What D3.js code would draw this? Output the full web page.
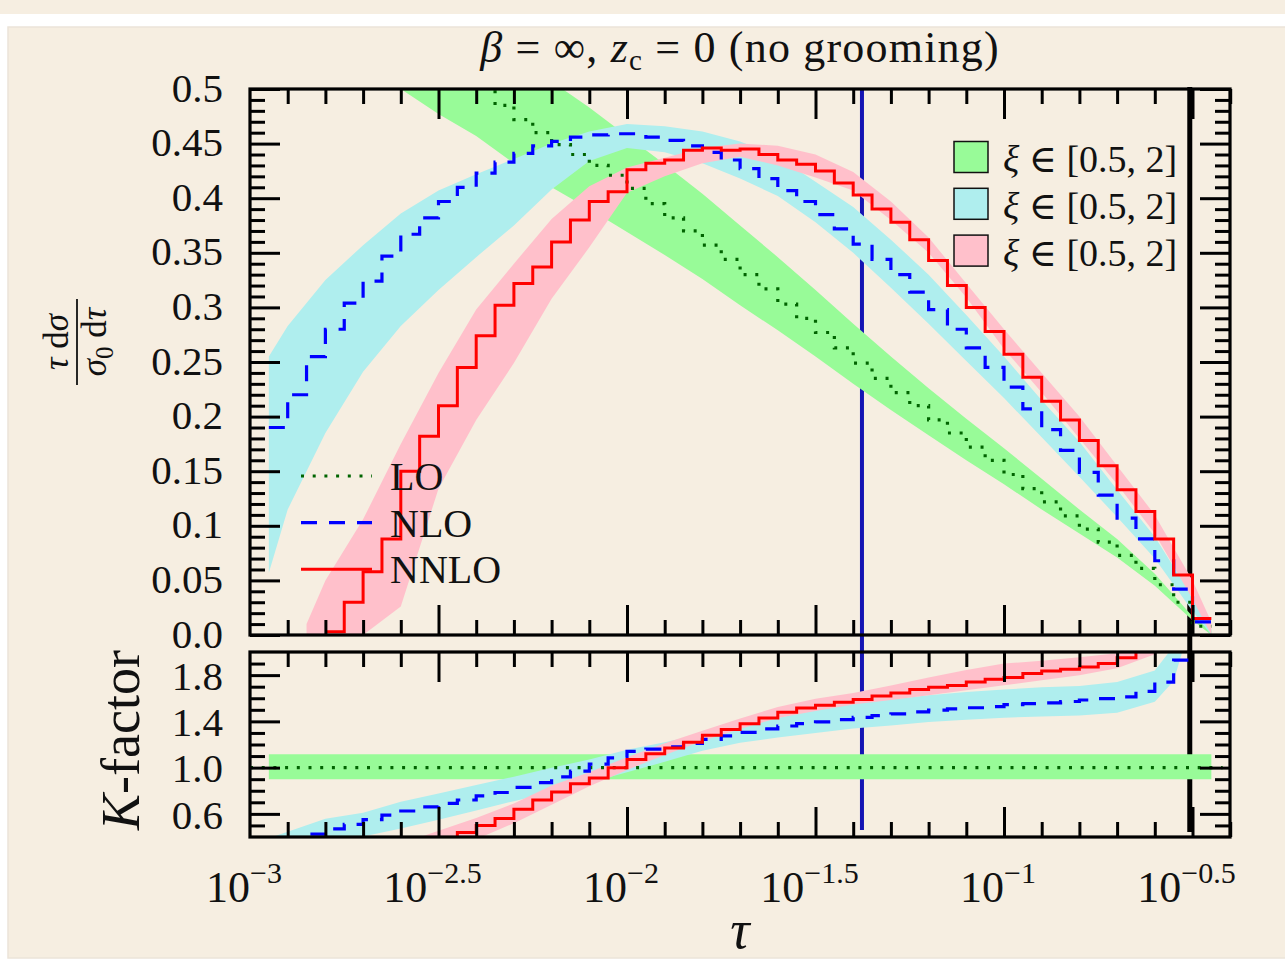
<!DOCTYPE html>
<html>
<head>
<meta charset="utf-8">
<title>K-factor, no grooming</title>
<style>
  body { margin: 0; background: #ffffff; }
  svg text { font-family: "Liberation Serif", "DejaVu Serif", serif; fill: #111; }
</style>
</head>
<body>
<script src="https://cdn.jsdelivr.net/npm/d3@7/dist/d3.min.js"></script>
<script>
// all x values are log10(tau)
var binW = 0.05;

// ---- upper panel: tau/sigma0 dsigma/dtau, histograms with 0.05 bins ----
var loStart = -2.40;
var loCentral = [0.503,0.485,0.472,0.46,0.449,0.44,0.43,0.421,0.409,0.395,0.382,0.37,0.357,0.344,0.33,0.317,0.303,0.29,0.277,0.263,
  0.249,0.235,0.222,0.21,0.197,0.185,0.172,0.16,0.147,0.134,0.122,0.109,0.097,0.085,0.073,0.061,0.046,0.03,0.008];

var nloStart = -2.95;
var nloCentral = [0.19,0.22,0.255,0.28,0.304,0.324,0.347,0.367,0.382,0.397,0.41,0.423,0.433,0.441,0.448,0.452,0.456,0.458,0.459,0.459,
  0.456,0.453,0.448,0.442,0.435,0.427,0.418,0.407,0.397,0.385,0.372,0.358,0.344,0.33,0.314,0.298,0.28,0.263,0.245,0.227,
  0.207,0.188,0.169,0.149,0.128,0.107,0.088,0.068,0.042,0.012];

var nnloStart = -2.80;
var nnloCentral = [0.003,0.03,0.058,0.088,0.15,0.182,0.21,0.245,0.274,0.302,0.322,0.337,0.36,0.38,0.397,0.406,0.426,0.432,0.435,0.444,
  0.446,0.444,0.445,0.44,0.435,0.431,0.425,0.414,0.403,0.39,0.378,0.362,0.343,0.32,0.3,0.278,0.257,0.236,0.214,0.197,
  0.178,0.155,0.133,0.113,0.088,0.055,0.015];

// scale-variation bands (xi in [0.5, 2])
var loBandX = [-2.6,-2.5,-2.4,-2.3,-2.2,-2.1,-2.0,-1.9,-1.8,-1.7,-1.6,-1.5,-1.4,-1.3,-1.2,-1.1,-1.0,-0.9,-0.8,-0.7,-0.6,-0.5,-0.45];
var loBandLow = [0.5,0.477,0.457,0.432,0.41,0.39,0.369,0.348,0.326,0.302,0.279,0.255,0.23,0.206,0.183,0.16,0.138,0.115,0.093,0.071,0.045,0.0135,0.0];
var loBandHigh = [0.619,0.591,0.566,0.535,0.507,0.483,0.457,0.431,0.404,0.375,0.346,0.316,0.285,0.255,0.226,0.198,0.171,0.143,0.115,0.088,0.056,0.017,0.004];

var nloBandX = [-2.95,-2.9,-2.8,-2.7,-2.6,-2.5,-2.4,-2.3,-2.2,-2.1,-2.0,-1.9,-1.8,-1.7,-1.6,-1.5,-1.4,-1.3,-1.2,-1.1,-1.0,-0.9,-0.8,-0.7,-0.6,-0.5,-0.45];
var nloBandLow = [0.057,0.115,0.185,0.241,0.283,0.316,0.346,0.375,0.408,0.434,0.446,0.442,0.432,0.418,0.402,0.378,0.35,0.318,0.285,0.251,0.217,0.181,0.145,0.108,0.07,0.022,0.0];
var nloBandHigh = [0.255,0.283,0.325,0.357,0.386,0.407,0.422,0.436,0.45,0.461,0.468,0.466,0.461,0.452,0.438,0.415,0.392,0.362,0.33,0.293,0.255,0.215,0.177,0.133,0.09,0.035,0.005];

var nnloBandX = [-2.85,-2.8,-2.7,-2.6,-2.5,-2.4,-2.3,-2.2,-2.1,-2.0,-1.9,-1.8,-1.7,-1.6,-1.5,-1.4,-1.3,-1.2,-1.1,-1.0,-0.9,-0.8,-0.7,-0.6,-0.5,-0.45];
var nnloBandLow = [0,0,0,0.026,0.134,0.197,0.249,0.308,0.355,0.405,0.42,0.432,0.438,0.43,0.419,0.407,0.38,0.35,0.309,0.262,0.222,0.18,0.138,0.093,0.033,0];
var nnloBandHigh = [0.01,0.05,0.106,0.175,0.24,0.298,0.34,0.381,0.411,0.428,0.437,0.446,0.45,0.448,0.44,0.424,0.397,0.364,0.322,0.28,0.24,0.2,0.155,0.11,0.05,0.012];

// ---- lower panel: K-factor ----
var kLoX = [-3.0,-0.42];
var kLo = [1.0,1.0];
var kLoBandX = [-2.95,-0.45];
var kLoBandLow = [0.9,0.9];
var kLoBandHigh = [1.115,1.115];

var kNloStart = -2.95;
var kNlo = [0.3,0.36,0.425,0.47,0.51,0.55,0.59,0.625,0.66,0.69,0.72,0.755,0.785,0.83,0.87,0.92,0.97,1.03,1.085,1.14,
  1.16,1.18,1.21,1.245,1.275,1.305,1.335,1.36,1.38,1.395,1.415,1.435,1.45,1.465,1.482,1.497,1.508,1.518,1.527,1.545,
  1.553,1.56,1.572,1.585,1.596,1.612,1.66,1.74,1.93,2.3];

var kNnloStart = -2.50;
var kNnlo = [0.39,0.44,0.5,0.56,0.64,0.72,0.79,0.86,0.91,1.0,1.07,1.12,1.17,1.22,1.28,1.33,1.38,1.43,1.48,1.515,
  1.54,1.565,1.59,1.62,1.645,1.675,1.695,1.71,1.74,1.765,1.78,1.815,1.835,1.85,1.87,1.9,1.95,2.05];

var kNloBandX = [-2.95,-2.9,-2.8,-2.7,-2.6,-2.5,-2.4,-2.3,-2.2,-2.1,-2.0,-1.9,-1.8,-1.7,-1.6,-1.5,-1.4,-1.3,-1.2,-1.1,-1.0,-0.9,-0.8,-0.7,-0.6,-0.55,-0.5];
var kNloBandLow = [0.25,0.29,0.33,0.405,0.474,0.55,0.63,0.71,0.79,0.87,0.96,1.05,1.146,1.215,1.26,1.3,1.338,1.365,1.394,1.415,1.432,1.443,1.45,1.475,1.57,1.75,2.3];
var kNloBandHigh = [0.39,0.445,0.557,0.61,0.704,0.776,0.85,0.922,0.998,1.07,1.155,1.22,1.29,1.356,1.43,1.5,1.555,1.59,1.625,1.655,1.675,1.695,1.705,1.74,1.84,2.05,2.5];

var kNnloBandX = [-2.6,-2.5,-2.4,-2.3,-2.2,-2.1,-2.0,-1.9,-1.8,-1.7,-1.6,-1.5,-1.4,-1.3,-1.2,-1.1,-1.0,-0.9,-0.8,-0.7,-0.6,-0.55];
var kNnloBandLow = [0.1,0.24,0.38,0.52,0.68,0.84,0.98,1.11,1.23,1.335,1.43,1.49,1.545,1.585,1.625,1.67,1.713,1.755,1.8,1.86,1.98,2.1];
var kNnloBandHigh = [0.34,0.455,0.565,0.69,0.845,0.96,1.09,1.21,1.32,1.425,1.525,1.595,1.645,1.71,1.78,1.845,1.9,1.925,1.955,1.99,2.1,2.2];

// vertical marker lines (tau values)
var markerTau = [0.042, 0.311];
var markerColor = ["#1414b4", "#000000"];

// ticks / labels
var xMajor = [-3, -2.5, -2, -1.5, -1, -0.5];
var xMajorExp = ["\u22123", "\u22122.5", "\u22122", "\u22121.5", "\u22121", "\u22120.5"];
var yTopMajor = [0, 0.05, 0.1, 0.15, 0.2, 0.25, 0.3, 0.35, 0.4, 0.45, 0.5];
var yTopLabels = ["0.0", "0.05", "0.1", "0.15", "0.2", "0.25", "0.3", "0.35", "0.4", "0.45", "0.5"];
var yBotMajor = [0.6, 1.0, 1.4, 1.8];
var yBotLabels = ["0.6", "1.0", "1.4", "1.8"];
var lineNames = ["LO", "NLO", "NNLO"];
var bandNames = ["[0.5, 2]", "[0.5, 2]", "[0.5, 2]"];

var BG = "#f6eee1";
var green = "#98fb98", cyan = "#afeeee", pink = "#ffc0cb";

// ---------------------------------------------------------------
var svg = d3.select("body").append("svg").attr("width", 1285).attr("height", 964);
svg.append("rect").attr("width", 1285).attr("height", 964).attr("fill", "#ffffff");
svg.append("rect").attr("width", 1285).attr("height", 14).attr("fill", BG);
svg.append("rect").attr("x", 8).attr("y", 27).attr("width", 1290).attr("height", 931)
  .attr("fill", BG).attr("stroke", "#ebe4d9").attr("stroke-width", 1.5);

var x = d3.scaleLinear().domain([-3, -0.4]).range([250, 1230.2]);
var yTop = d3.scaleLinear().domain([0, 0.5]).range([635, 89]);
var yBot = d3.scaleLinear().domain([0.4, 2.0]).range([837, 652]);

var defs = svg.append("defs");
defs.append("clipPath").attr("id", "clipTop").append("rect")
  .attr("x", 250).attr("y", 89).attr("width", 980).attr("height", 546);
defs.append("clipPath").attr("id", "clipBot").append("rect")
  .attr("x", 250).attr("y", 652).attr("width", 980).attr("height", 185);

// vertical marker lines, behind everything else
markerTau.forEach(function (t, i) {
  svg.append("line")
    .attr("x1", x(Math.log10(t))).attr("x2", x(Math.log10(t)))
    .attr("y1", i ? 87 : 89).attr("y2", i ? 832 : 830)
    .attr("stroke", markerColor[i]).attr("stroke-width", i ? 5 : 4);
});

function bandPts(xs, lo, hi) { return xs.map(function (d, i) { return [d, lo[i], hi[i]]; }); }
function stepPts(start, vals) {
  var pts = vals.map(function (v, i) { return [start + i * binW, v]; });
  pts.push([start + vals.length * binW, vals[vals.length - 1]]);
  return pts;
}

function drawPanel(y, clipId, bands, lines) {
  var g = svg.append("g").attr("clip-path", "url(#" + clipId + ")");
  var area = d3.area().x(function (d) { return x(d[0]); })
    .y0(function (d) { return y(d[1]); }).y1(function (d) { return y(d[2]); });
  bands.forEach(function (b) {
    g.append("path").attr("d", area(b.pts)).attr("fill", b.color);
  });
  lines.forEach(function (l) {
    var gen = d3.line().x(function (d) { return x(d[0]); }).y(function (d) { return y(d[1]); });
    if (l.step) gen.curve(d3.curveStepAfter);
    g.append("path").attr("d", gen(l.pts)).attr("fill", "none")
      .attr("stroke", l.color).attr("stroke-width", l.width)
      .attr("stroke-dasharray", l.dash || null);
  });
}

var styleLO = { color: "#006400", width: 3.2, dash: "3,8.7" };
var styleNLO = { color: "#0000ff", width: 3.2, dash: "16,12" };
var styleNNLO = { color: "#ff0000", width: 3, dash: null };

drawPanel(yTop, "clipTop", [
  { pts: bandPts(loBandX, loBandLow, loBandHigh), color: green },
  { pts: bandPts(nloBandX, nloBandLow, nloBandHigh), color: cyan },
  { pts: bandPts(nnloBandX, nnloBandLow, nnloBandHigh), color: pink }
], [
  Object.assign({ pts: stepPts(loStart, loCentral), step: true }, styleLO),
  Object.assign({ pts: stepPts(nloStart, nloCentral), step: true }, styleNLO),
  Object.assign({ pts: stepPts(nnloStart, nnloCentral), step: true }, styleNNLO)
]);

drawPanel(yBot, "clipBot", [
  { pts: bandPts(kLoBandX, kLoBandLow, kLoBandHigh), color: green },
  { pts: bandPts(kNloBandX, kNloBandLow, kNloBandHigh), color: cyan },
  { pts: bandPts(kNnloBandX, kNnloBandLow, kNnloBandHigh), color: pink }
], [
  Object.assign({ pts: kLoX.map(function (d, i) { return [d, kLo[i]]; }), step: false }, styleLO),
  Object.assign({ pts: stepPts(kNloStart, kNlo), step: true }, styleNLO),
  Object.assign({ pts: stepPts(kNnloStart, kNnlo), step: true }, styleNNLO)
]);

// ---- axes: inward ticks on all four sides ----
var xMinor = d3.range(-29, -3, 1).map(function (d) { return d / 10; })
  .filter(function (d) { return xMajor.indexOf(d) < 0; });
var yTopMinor = d3.range(1, 50).map(function (d) { return d / 100; })
  .filter(function (d) { return d % 0.05 > 0.001 && d % 0.05 < 0.049; });
var yBotMinor = [0.5, 0.7, 0.8, 0.9, 1.1, 1.2, 1.3, 1.5, 1.6, 1.7, 1.9];

function ticks(axisFn, scale, values, len, tx, ty) {
  var g = svg.append("g").attr("transform", "translate(" + tx + "," + ty + ")")
    .call(axisFn(scale).tickValues(values).tickSize(-len).tickFormat(""));
  g.select(".domain").remove();
  g.selectAll("line").attr("stroke", "#000").attr("stroke-width", 3);
}

[[yTop, yTopMinor, yTopMajor, 89, 635], [yBot, yBotMinor, yBotMajor, 652, 837]].forEach(function (p) {
  var y = p[0];
  ticks(d3.axisBottom, x, xMinor, 15, 0, p[4]);
  ticks(d3.axisBottom, x, xMajor.slice(1), 30, 0, p[4]);
  ticks(d3.axisTop, x, xMinor, 15, 0, p[3]);
  ticks(d3.axisTop, x, xMajor.slice(1), 30, 0, p[3]);
  ticks(d3.axisLeft, y, p[1], 15, 250, 0);
  ticks(d3.axisLeft, y, p[2], 30, 250, 0);
  ticks(d3.axisRight, y, p[1], 15, 1230, 0);
  ticks(d3.axisRight, y, p[2], 30, 1230, 0);
  svg.append("rect").attr("x", 250).attr("y", p[3]).attr("width", 980).attr("height", p[4] - p[3])
    .attr("fill", "none").attr("stroke", "#000").attr("stroke-width", 3.2);
});

// y tick labels
function yLabels(scale, values, labels, shift) {
  var g = svg.append("g").attr("transform", "translate(250," + shift + ")")
    .call(d3.axisLeft(scale).tickValues(values).tickSize(0).tickPadding(27)
      .tickFormat(function (d, i) { return labels[i]; }));
  g.select(".domain").remove();
  g.selectAll("text").attr("font-size", 41).attr("font-family", null).attr("fill", "#111")
    .attr("dy", "0.32em");
}
yLabels(yTop, yTopMajor, yTopLabels, -1);
yLabels(yBot, yBotMajor, yBotLabels, 1);

// x tick labels 10^{...}
var xl = svg.append("g").selectAll("text").data(xMajor).join("text")
  .attr("x", function (d) { return x(d) - 6; }).attr("y", 902)
  .attr("text-anchor", "middle").attr("font-size", 44);
xl.append("tspan").text("10");
xl.append("tspan").attr("font-size", 30).attr("dy", -19).text(function (d, i) { return xMajorExp[i]; });

// axis titles
svg.append("text").attr("x", 740).attr("y", 948).attr("text-anchor", "middle")
  .attr("font-size", 54).attr("font-style", "italic").text("\u03c4");

var kt = svg.append("text").attr("transform", "translate(139,740) rotate(-90)")
  .attr("text-anchor", "middle").attr("font-size", 54);
kt.append("tspan").attr("font-style", "italic").text("K");
kt.append("tspan").text("-factor");

var fr = svg.append("g").attr("transform", "translate(77,342) rotate(-90)");
var num = fr.append("text").attr("x", 0).attr("y", -9).attr("text-anchor", "middle").attr("font-size", 35);
num.append("tspan").attr("font-style", "italic").text("\u03c4");
num.append("tspan").text(" d");
num.append("tspan").attr("font-style", "italic").text("\u03c3");
fr.append("line").attr("x1", -43).attr("x2", 43).attr("y1", 0).attr("y2", 0)
  .attr("stroke", "#111").attr("stroke-width", 1.8);
var den = fr.append("text").attr("x", 0).attr("y", 29).attr("text-anchor", "middle").attr("font-size", 35);
den.append("tspan").attr("font-style", "italic").text("\u03c3");
den.append("tspan").attr("font-size", 25).attr("dy", 7).text("0");
den.append("tspan").attr("dy", -7).text(" d");
den.append("tspan").attr("font-style", "italic").text("\u03c4");

// title
var tt = svg.append("text").attr("x", 740).attr("y", 62).attr("text-anchor", "middle")
  .attr("font-size", 44).attr("letter-spacing", 1.2);
tt.append("tspan").attr("font-style", "italic").text("\u03b2");
tt.append("tspan").text(" = \u221e, ");
tt.append("tspan").attr("font-style", "italic").text("z");
tt.append("tspan").attr("font-size", 29).attr("dy", 8).text("c");
tt.append("tspan").attr("dy", -8).text(" = 0 (no grooming)");

// legend: bands (top right)
var bandColors = [green, cyan, pink];
var lb = svg.append("g").selectAll("g").data(bandNames).join("g")
  .attr("transform", function (d, i) { return "translate(954," + (157 + i * 46.8) + ")"; });
lb.append("rect").attr("x", 0).attr("y", -15.5).attr("width", 34).attr("height", 31)
  .attr("fill", function (d, i) { return bandColors[i]; }).attr("stroke", "#111").attr("stroke-width", 1.5);
var lbt = lb.append("text").attr("x", 49).attr("y", 15).attr("font-size", 38);
lbt.append("tspan").attr("font-style", "italic").text("\u03be");
lbt.append("tspan").text(function (d) { return " \u2208 " + d; });

// legend: lines (lower left)
var lineStyles = [styleLO, styleNLO, styleNNLO];
var ll = svg.append("g").selectAll("g").data(lineNames).join("g")
  .attr("transform", function (d, i) { return "translate(301," + (476 + i * 46.6) + ")"; });
ll.append("line").attr("x1", 0).attr("x2", 71).attr("y1", 0).attr("y2", 0)
  .attr("stroke", function (d, i) { return lineStyles[i].color; })
  .attr("stroke-width", function (d, i) { return lineStyles[i].width; })
  .attr("stroke-dasharray", function (d, i) { return lineStyles[i].dash; });
ll.append("text").attr("x", 89).attr("y", 14).attr("font-size", 40).text(function (d) { return d; });
</script>
</body>
</html>
